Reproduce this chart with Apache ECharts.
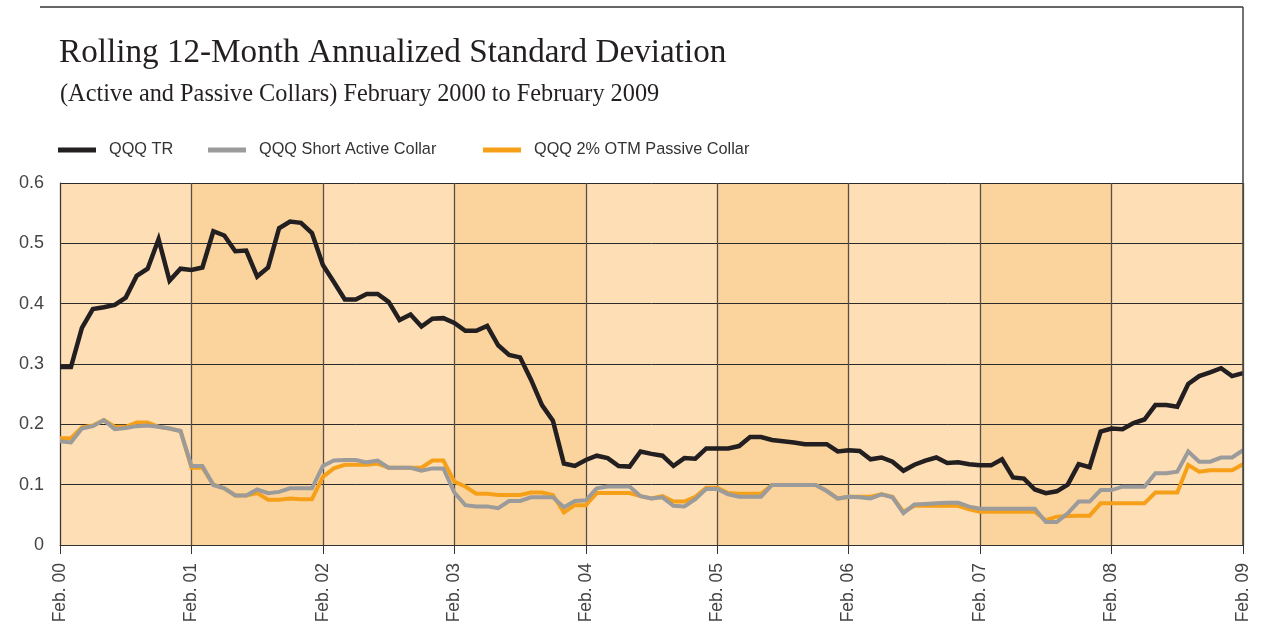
<!DOCTYPE html>
<html>
<head>
<meta charset="utf-8">
<script src="https://cdn.jsdelivr.net/npm/echarts@6/dist/echarts.min.js"></script>
<style>
html,body{margin:0;padding:0;background:#fff;}
#chart{width:1264px;height:631px;}
</style>
</head>
<body>
<div id="chart"></div>
<script>
// ---- data ----
const monthNames = ['Feb','Mar','Apr','May','Jun','Jul','Aug','Sep','Oct','Nov','Dec','Jan'];
const startYear = 2000;
const nMonths = 109; // Feb 2000 .. Feb 2009
const bandYears = ['Feb. 01','Feb. 03','Feb. 05','Feb. 07']; // darker shaded years start
const bandEnds  = ['Feb. 02','Feb. 04','Feb. 06','Feb. 08'];
const yTicks = [0, 0.1, 0.2, 0.3, 0.4, 0.5, 0.6];

const qqqTR = [
0.295,0.295,0.36,0.391,0.394,0.398,0.41,0.446,0.458,0.507,0.438,0.458,
0.456,0.46,0.52,0.513,0.487,0.488,0.445,0.46,0.525,0.536,0.534,0.517,
0.464,0.436,0.407,0.407,0.416,0.416,0.403,0.373,0.382,0.362,0.375,0.376,
0.368,0.355,0.355,0.363,0.331,0.315,0.311,0.274,0.232,0.206,0.135,0.131,
0.141,0.148,0.144,0.131,0.13,0.155,0.151,0.148,0.131,0.144,0.143,0.16,
0.16,0.16,0.164,0.179,0.179,0.174,0.172,0.170,0.167,0.167,0.167,0.155,
0.157,0.156,0.142,0.145,0.138,0.123,0.133,0.14,0.145,0.136,0.137,0.134,
0.132,0.132,0.142,0.112,0.11,0.092,0.086,0.089,0.10,0.134,0.129,0.188,
0.193,0.192,0.202,0.208,0.232,0.232,0.229,0.267,0.28,0.286,0.293,0.28,
0.285
];
const shortActive = [
0.172,0.170,0.193,0.197,0.207,0.192,0.194,0.197,0.198,0.196,0.193,0.189,
0.131,0.131,0.0995,0.094,0.082,0.082,0.092,0.086,0.088,0.094,0.094,0.094,
0.131,0.14,0.141,0.141,0.137,0.140,0.128,0.128,0.128,0.123,0.127,0.127,
0.087,0.066,0.064,0.064,0.061,0.073,0.073,0.079,0.079,0.079,0.0625,0.073,
0.074,0.094,0.097,0.097,0.097,0.081,0.077,0.079,0.065,0.064,0.076,0.093,
0.093,0.084,0.080,0.080,0.080,0.0995,0.0995,0.0995,0.0995,0.0995,0.0895,0.077,
0.080,0.079,0.077,0.084,0.079,0.053,0.067,0.068,0.069,0.07,0.07,0.0635,
0.06,0.06,0.06,0.06,0.06,0.06,0.038,0.038,0.0525,0.072,0.072,0.091,
0.091,0.0967,0.0967,0.0967,0.119,0.119,0.1215,0.155,0.138,0.138,0.145,0.145,
0.157
];
const passiveOTM = [
0.177,0.177,0.195,0.198,0.207,0.196,0.196,0.203,0.203,0.196,0.193,0.189,
0.128,0.128,0.10,0.094,0.082,0.082,0.086,0.075,0.075,0.077,0.076,0.076,
0.113,0.127,0.133,0.133,0.133,0.135,0.128,0.128,0.128,0.128,0.14,0.14,
0.105,0.097,0.085,0.085,0.083,0.083,0.083,0.087,0.087,0.083,0.054,0.066,
0.066,0.086,0.086,0.086,0.086,0.081,0.077,0.081,0.072,0.072,0.080,0.095,
0.095,0.086,0.085,0.085,0.085,0.0995,0.0995,0.0995,0.0995,0.0995,0.0895,0.077,
0.080,0.080,0.080,0.084,0.080,0.055,0.065,0.065,0.065,0.065,0.065,0.059,
0.055,0.055,0.055,0.055,0.055,0.055,0.041,0.047,0.048,0.0486,0.0486,0.069,
0.069,0.069,0.069,0.069,0.087,0.087,0.087,0.1326,0.1215,0.124,0.124,0.124,
0.134
];

// ---- categories ----
const categories = [];
for (let i = 0; i < nMonths; i++) {
  const m = i % 12;
  const y = startYear + Math.floor((i + 1) / 12);
  categories.push(monthNames[m] + '. ' + String(y % 100).padStart(2, '0'));
}

const COL_BLACK = '#231f20', COL_GRAY = '#9b9b9b', COL_ORANGE = '#f6a01a';
const BG_LIGHT = '#fddeb5', BG_DARK = '#fbd49d';
const sans = '"Liberation Sans", Arial, sans-serif';
const serif = '"Liberation Serif", "Times New Roman", serif';

const chart = echarts.init(document.getElementById('chart'), null, {renderer: 'canvas'});

function legendFor(name, left) {
  return {
    left: left, top: 142, padding: 0, icon: 'rect', itemWidth: 38, itemHeight: 5, itemGap: 12,
    data: [name], selectedMode: false,
    textStyle: {fontFamily: sans, fontSize: 16.3, color: '#333', padding: [0,0,0,8]}
  };
}

chart.setOption({
  animation: false,
  backgroundColor: '#ffffff',
  title: [
    {text: 'Rolling 12-Month Annualized Standard Deviation', left: 59, top: 37, padding: 0,
     textStyle: {fontFamily: serif, fontWeight: 'normal', fontSize: 33.2, color: '#231f20'}},
    {text: '(Active and Passive Collars) February 2000 to February 2009', left: 60, top: 83, padding: 0,
     textStyle: {fontFamily: serif, fontWeight: 'normal', fontSize: 24.3, color: '#231f20'}}
  ],
  legend: [
    legendFor('QQQ TR', 58),
    legendFor('QQQ Short Active Collar', 208),
    legendFor('QQQ 2% OTM Passive Collar', 483)
  ],
  grid: {left: 60, right: 21, top: 183, bottom: 86, show: true,
         backgroundColor: BG_LIGHT, borderWidth: 0},
  graphic: [
    {type: 'line', shape: {x1: 40, y1: 7, x2: 1243, y2: 7},
     style: {stroke: '#333', lineWidth: 1.5}, z: 10},
    {type: 'line', shape: {x1: 1243, y1: 7, x2: 1243, y2: 545},
     style: {stroke: '#444', lineWidth: 1.5}, z: 10}
  ],
  xAxis: {
    type: 'category', data: categories, boundaryGap: false, z: 3,
    axisLine: {show: true, lineStyle: {color: '#333', width: 1}},
    axisTick: {show: true, interval: 11, length: 9, lineStyle: {color: '#333'}},
    axisLabel: {interval: 11, rotate: 90, margin: 18, fontFamily: sans, fontSize: 17.5, color: '#444'},
    splitLine: {show: true, interval: 11, lineStyle: {color: '#5a4f46', width: 1.3}}
  },
  yAxis: {
    type: 'value', min: 0, max: 0.6, interval: 0.1, z: 3,
    axisLine: {show: true, lineStyle: {color: '#333', width: 1}},
    axisTick: {show: false},
    axisLabel: {margin: 16, fontFamily: sans, fontSize: 18, color: '#444',
      formatter: v => (Math.abs(v) < 1e-9 ? '0' : v.toFixed(1))},
    splitLine: {show: true, lineStyle: {color: '#2b2b2b', width: 1}}
  },
  series: [
    {name: 'bands', type: 'line', data: [], z: 1, silent: true,
     markArea: {silent: true, itemStyle: {color: BG_DARK},
       data: bandYears.map((s, k) => [{xAxis: s}, {xAxis: bandEnds[k]}])}},
    {name: 'QQQ 2% OTM Passive Collar', type: 'line', data: passiveOTM, z: 5,
     symbol: 'none', lineStyle: {color: COL_ORANGE, width: 4, join: 'miter'}, itemStyle: {color: COL_ORANGE}},
    {name: 'QQQ Short Active Collar', type: 'line', data: shortActive, z: 6,
     symbol: 'none', lineStyle: {color: COL_GRAY, width: 4, join: 'miter'}, itemStyle: {color: COL_GRAY}},
    {name: 'QQQ TR', type: 'line', data: qqqTR, z: 7,
     symbol: 'none', lineStyle: {color: COL_BLACK, width: 4.5, join: 'miter'}, itemStyle: {color: COL_BLACK}}
  ]
});
</script>
</body>
</html>
